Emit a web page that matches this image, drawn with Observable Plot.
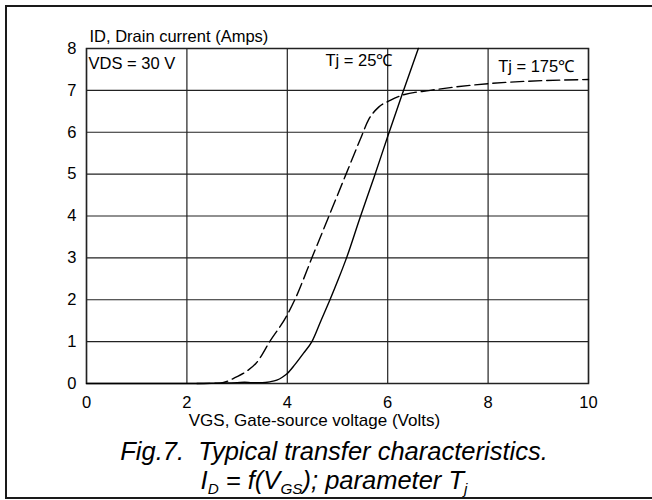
<!DOCTYPE html>
<html><head><meta charset="utf-8">
<script src="https://cdn.jsdelivr.net/npm/d3@7"></script>
<script src="https://cdn.jsdelivr.net/npm/@observablehq/plot@0.6"></script>
<style>
body{margin:0;background:#fff;}
#wrap{position:relative;width:652px;height:500px;overflow:hidden;font-family:"Liberation Sans",Arial,sans-serif;background:#fff;}
#frame{position:absolute;left:5px;top:5px;width:700px;height:494px;box-sizing:border-box;border:2px solid #1a1a1a;border-right:none;}
#chart{position:absolute;left:0;top:0;}
#chart svg, #chart svg text{font-family:"Liberation Sans",Arial,sans-serif !important;}
#caption{position:absolute;left:0;width:668px;top:437px;text-align:center;font-family:"Liberation Sans",Arial,sans-serif;font-style:italic;font-size:25.5px;line-height:29px;white-space:pre;color:#000;}
.sub{font-size:0.6em;vertical-align:-0.3em;}
</style></head>
<body><div id="wrap"><div id="frame"></div><div id="chart"></div><div id="caption"></div></div>
<script>
// Tj = 25 °C (solid)
const vgs25 = [0, 1, 2, 2.6, 3.0, 3.15, 3.3, 3.5, 3.65, 3.79, 3.9, 4.0, 4.15, 4.32, 4.49, 4.67, 4.85, 5.02, 5.18, 5.44, 5.73, 6.0, 6.28, 6.61];
const id25  = [0, 0, 0, 0.01, 0.02, 0.03, 0.02, 0.02, 0.04, 0.08, 0.15, 0.24, 0.45, 0.72, 1.0, 1.5, 2.0, 2.5, 3.0, 3.93, 4.93, 5.9, 6.88, 8.0];
// Tj = 175 °C (dashed)
const vgs175 = [2.2, 2.66, 2.99, 3.2, 3.39, 3.65, 3.99, 4.15, 4.51, 4.81, 5.17, 5.45, 5.62, 5.82, 6.05, 6.28, 6.85, 8, 10];
const id175  = [0, 0.01, 0.16, 0.3, 0.5, 1.0, 1.62, 2.0, 3.06, 3.94, 5.0, 5.82, 6.3, 6.6, 6.76, 6.88, 7.0, 7.16, 7.26];

const xTicks = [0, 2, 4, 6, 8, 10];
const yTicks = [0, 1, 2, 3, 4, 5, 6, 7, 8];

const labelText = ["ID, Drain current (Amps)", "VDS = 30 V", "Tj = 25℃", "Tj = 175℃"];
const labelX = [0.06, 0.04, 4.76, 8.2];
const labelY = [8.15, 7.52, 7.58, 7.44];
const xTitle = "VGS, Gate-source voltage (Volts)";

const d25 = vgs25.map((v, i) => ({vgs: v, id: id25[i]}));
const d175 = vgs175.map((v, i) => ({vgs: v, id: id175[i]}));
const labels = labelText.map((t, i) => ({text: t, x: labelX[i], y: labelY[i]}));

const chart = Plot.plot({
  width: 652, height: 440,
  marginLeft: 86, marginRight: 64, marginTop: 48, marginBottom: 57,
  style: {fontFamily: "Liberation Sans, Arial, sans-serif", fontSize: "16.5px", color: "#000", background: "transparent"},
  x: {domain: [0, 10], ticks: xTicks, tickSize: 0, tickPadding: 13, label: null},
  y: {domain: [0, 8], ticks: yTicks, tickSize: 0, tickPadding: 10, label: null},
  marks: [
    Plot.gridX(xTicks, {stroke: "#222", strokeOpacity: 1, strokeWidth: 1.2}),
    Plot.gridY(yTicks, {stroke: "#222", strokeOpacity: 1, strokeWidth: 1.2}),
    Plot.frame({stroke: "#222", strokeWidth: 1.5}),
    Plot.line(d25, {x: "vgs", y: "id", curve: "monotone-x", stroke: "#000", strokeWidth: 1.4}),
    Plot.line(d175, {x: "vgs", y: "id", curve: "monotone-x", stroke: "#000", strokeWidth: 1.4, strokeDasharray: "13,5"}),
    Plot.text(labels, {x: "x", y: "y", text: "text", textAnchor: "start", lineAnchor: "bottom", fontSize: 16.5, fill: "#000"}),
    Plot.text([xTitle], {x: 4.54, y: -1.02, text: d => d, textAnchor: "middle", lineAnchor: "bottom", fontSize: 17, fill: "#000"})
  ]
});
document.getElementById("chart").appendChild(chart);
document.getElementById("caption").innerHTML =
  "Fig.7.  Typical transfer characteristics.\n" +
  "I<span class=\"sub\">D</span> = f(V<span class=\"sub\">GS</span>); parameter T<span class=\"sub\">j</span>";
</script>
</body></html>
